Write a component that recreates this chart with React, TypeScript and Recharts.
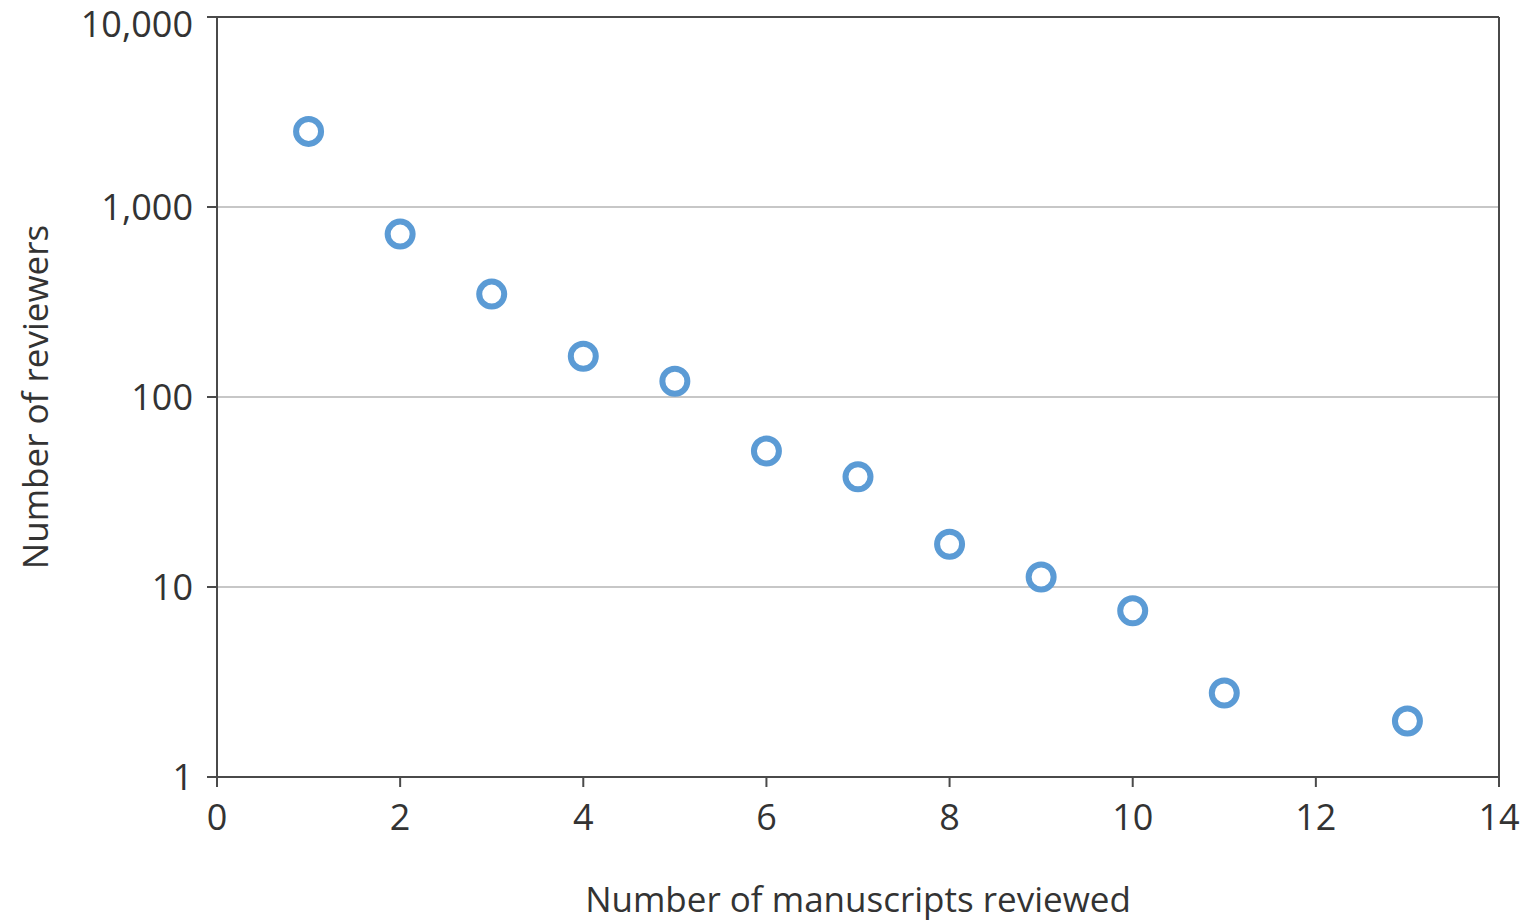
import React from "react";
import {
  ScatterChart,
  Scatter,
  XAxis,
  YAxis,
  CartesianGrid,
  ReferenceLine,
} from "recharts";

// manuscripts reviewed per reviewer (x) vs number of reviewers (y)
const manuscripts = [1, 2, 3, 4, 5, 6, 7, 8, 9, 10, 11, 13];
const reviewers = [2500, 720, 348, 164, 121, 52, 38, 16.8, 11.3, 7.5, 2.77, 1.97];

const xTicks = [0, 2, 4, 6, 8, 10, 12, 14];
const yTicks = [1, 10, 100, 1000, 10000];

const data = manuscripts.map((m, i) => ({ x: m, y: reviewers[i] }));

const FONT = "'Open Sans', 'DejaVu Sans', sans-serif";
const AXIS = "#4a4a4a";
const TEXT = "#333";
const BLUE = "#5b9bd5";

// eslint-disable-next-line @typescript-eslint/no-explicit-any
function Ring(props: any) {
  const { cx, cy } = props;
  if (cx == null || cy == null) return null;
  return <circle cx={cx} cy={cy} r={12.5} fill="#fff" stroke={BLUE} strokeWidth={6} />;
}

// top label sits a bit lower so it isn't clipped by the page edge
// eslint-disable-next-line @typescript-eslint/no-explicit-any
function YTick(props: any) {
  const { x, y, payload } = props;
  const shift = payload.value === 10000 ? 7 : 0;
  return (
    <text
      x={x}
      y={y + shift}
      dy="0.355em"
      textAnchor="end"
      fontSize={36}
      fill={TEXT}
      fontFamily={FONT}
    >
      {Number(payload.value).toLocaleString("en-US")}
    </text>
  );
}

export default function App() {
  return (
    <div style={{ position: "absolute", left: 0, top: 0, background: "#fff" }}>
      <ScatterChart
        width={1525}
        height={921}
        margin={{ top: 17, right: 26, left: 0, bottom: 0 }}
      >
        <CartesianGrid
          vertical={false}
          stroke="#b5b5b5"
          strokeWidth={1.5}
          horizontalValues={[10, 100, 1000]}
        />
        <XAxis
          type="number"
          dataKey="x"
          domain={[0, 14]}
          ticks={xTicks}
          interval={0}
          height={144}
          tickSize={10}
          tickMargin={17}
          tick={{ fontSize: 36, fill: TEXT, fontFamily: FONT }}
          axisLine={{ stroke: AXIS, strokeWidth: 2 }}
          tickLine={{ stroke: AXIS, strokeWidth: 2 }}
          label={{
            value: "Number of manuscripts reviewed",
            position: "insideBottom",
            offset: 9,
            fontSize: 35,
            fill: TEXT,
            fontFamily: FONT,
          }}
        />
        <YAxis
          type="number"
          dataKey="y"
          scale="log"
          domain={[1, 10000]}
          ticks={yTicks}
          interval={0}
          allowDataOverflow
          width={217}
          tickSize={10}
          tickMargin={14}
          tick={<YTick />}
          axisLine={{ stroke: AXIS, strokeWidth: 2 }}
          tickLine={{ stroke: AXIS, strokeWidth: 2 }}
          label={{
            value: "Number of reviewers",
            angle: -90,
            position: "insideLeft",
            offset: 36,
            style: { textAnchor: "middle" },
            fontSize: 35,
            fill: TEXT,
            fontFamily: FONT,
          }}
        />
        <ReferenceLine y={10000} stroke={AXIS} strokeWidth={2} />
        <ReferenceLine x={14} stroke={AXIS} strokeWidth={2} />
        <Scatter data={data} shape={<Ring />} isAnimationActive={false} />
      </ScatterChart>
    </div>
  );
}
